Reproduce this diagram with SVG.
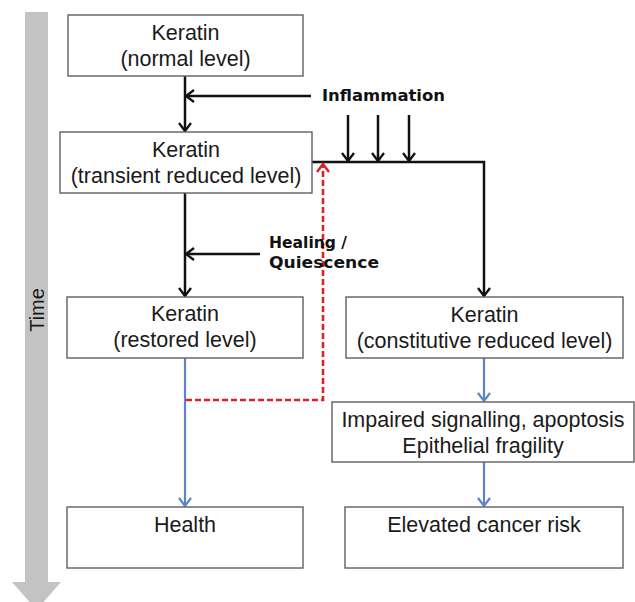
<svg xmlns="http://www.w3.org/2000/svg" width="635" height="602" viewBox="0 0 635 602">
<style>
.box{fill:#fff;stroke:#606060;stroke-width:1.4}
.t{font-family:"Liberation Sans",Arial,sans-serif;font-size:21.5px;fill:#1a1a1a;text-anchor:middle}
.lb{font-family:"DejaVu Sans","Liberation Sans",sans-serif;font-weight:bold;font-size:16.5px;fill:#111}
.k{stroke:#111;stroke-width:2.5;fill:none}
.b{stroke:#5b86c2;stroke-width:2.2;fill:none}
.r{stroke:#e02020;stroke-width:2.6;fill:none;stroke-dasharray:6 3}
</style>
<defs>
<marker id="ak" markerUnits="userSpaceOnUse" markerWidth="14" markerHeight="14" refX="11" refY="7" orient="auto"><path d="M3,1 L11,7 L3,13" fill="none" stroke="#111" stroke-width="2.3"/></marker>
<marker id="ab" markerUnits="userSpaceOnUse" markerWidth="14" markerHeight="14" refX="11" refY="7" orient="auto"><path d="M3,1 L11,7 L3,13" fill="none" stroke="#5b86c2" stroke-width="2.2"/></marker>
<marker id="ar" markerUnits="userSpaceOnUse" markerWidth="14" markerHeight="14" refX="11" refY="7" orient="auto"><path d="M3,1 L11,7 L3,13" fill="none" stroke="#e02020" stroke-width="2.4"/></marker>
</defs>
<g id="time">
<polygon points="25,12 48,12 48,582 61,582 36.5,610 12,582 25,582" fill="#c3c3c3"/>
<text transform="translate(44,310) rotate(-90)" class="t" style="font-size:20px">Time</text>
</g>
<g id="connectors">
<line class="k" x1="185" y1="76" x2="185" y2="131" marker-end="url(#ak)"/>
<line class="k" x1="311" y1="96" x2="186" y2="96" marker-end="url(#ak)"/>
<line class="k" x1="348" y1="115" x2="348" y2="161" marker-end="url(#ak)"/>
<line class="k" x1="378" y1="115" x2="378" y2="161" marker-end="url(#ak)"/>
<line class="k" x1="409" y1="115" x2="409" y2="161" marker-end="url(#ak)"/>
<polyline class="k" points="312,162 484,162 484,296" marker-end="url(#ak)"/>
<line class="k" x1="185" y1="193" x2="185" y2="296" marker-end="url(#ak)"/>
<line class="k" x1="260" y1="254" x2="186" y2="254" marker-end="url(#ak)"/>
<line class="b" x1="185" y1="358" x2="185" y2="506" marker-end="url(#ab)"/>
<line class="b" x1="484" y1="358" x2="484" y2="401" marker-end="url(#ab)"/>
<line class="b" x1="484" y1="462" x2="484" y2="506" marker-end="url(#ab)"/>
<polyline class="r" points="186,400 323,400 323,164" marker-end="url(#ar)"/>
</g>
<g id="labels">
<text class="lb" x="322" y="101" textLength="123" lengthAdjust="spacingAndGlyphs">Inflammation</text>
<text class="lb" x="269" y="248" textLength="78" lengthAdjust="spacingAndGlyphs">Healing /</text>
<text class="lb" x="269" y="268" textLength="110" lengthAdjust="spacingAndGlyphs">Quiescence</text>
</g>
<g id="n-normal">
<rect class="box" x="68" y="15" width="235" height="61"/>
<text class="t" x="185.5" y="40">Keratin</text>
<text class="t" x="185.5" y="66">(normal level)</text>
</g>
<g id="n-transient">
<rect class="box" x="60" y="132" width="252" height="61"/>
<text class="t" x="186" y="157">Keratin</text>
<text class="t" x="186" y="183">(transient reduced level)</text>
</g>
<g id="n-restored">
<rect class="box" x="67" y="297" width="236" height="61"/>
<text class="t" x="185" y="321">Keratin</text>
<text class="t" x="185" y="347">(restored level)</text>
</g>
<g id="n-constitutive">
<rect class="box" x="346" y="297" width="277" height="61"/>
<text class="t" x="484.5" y="322">Keratin</text>
<text class="t" x="484.5" y="348">(constitutive reduced level)</text>
</g>
<g id="n-impaired">
<rect class="box" x="332" y="402" width="302" height="60"/>
<text class="t" x="483" y="427">Impaired signalling, apoptosis</text>
<text class="t" x="483" y="453">Epithelial fragility</text>
</g>
<g id="n-health">
<rect class="box" x="67" y="507" width="236" height="61"/>
<text class="t" x="185" y="532">Health</text>
</g>
<g id="n-cancer">
<rect class="box" x="345" y="507" width="278" height="61"/>
<text class="t" x="484" y="532">Elevated cancer risk</text>
</g>
</svg>
